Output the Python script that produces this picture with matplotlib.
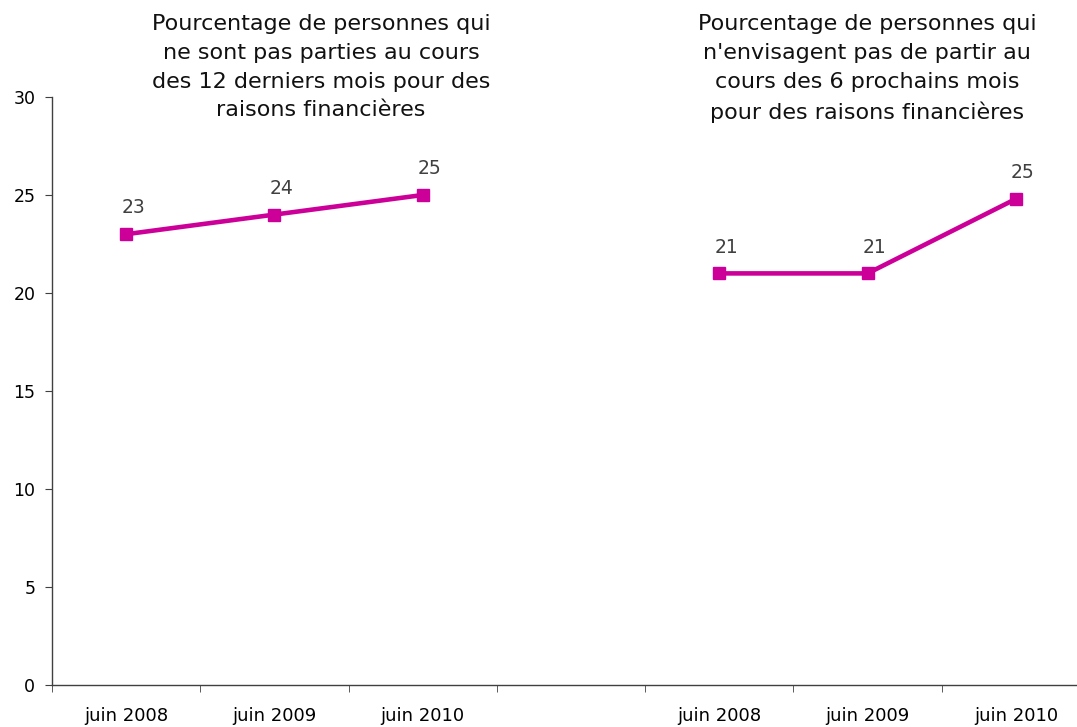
import numpy as np
import matplotlib.pyplot as plt

# categories along x (empty slot separates the two panels)
categories = ["juin 2008", "juin 2009", "juin 2010", "", "juin 2008", "juin 2009", "juin 2010"]

# % not gone away in last 12 months for financial reasons
past_values = [23, 24, 25]
past_labels = ["23", "24", "25"]

# % not planning to leave in next 6 months for financial reasons
next_values = [21, 21, 24.8]
next_labels = ["21", "21", "25"]

title_left = "Pourcentage de personnes qui\nne sont pas parties au cours\ndes 12 derniers mois pour des\nraisons financières"
title_right = "Pourcentage de personnes qui\nn'envisagent pas de partir au\ncours des 6 prochains mois\npour des raisons financières"

pink = "#CC0099"

fig = plt.figure(figsize=(10.77, 7.27), dpi=100)
ax = fig.add_axes([52 / 1077, 1 - 685 / 727, 1038 / 1077, (685 - 97) / 727])

x = np.arange(len(categories))
ax.plot(x[:3], past_values, color=pink, lw=3.3, marker="s", ms=9, clip_on=False)
ax.plot(x[4:], next_values, color=pink, lw=3.3, marker="s", ms=9, clip_on=False)

for xi, v, lab in zip(x[:3], past_values, past_labels):
    ax.annotate(lab, (xi, v), xytext=(5, 19), textcoords="offset points",
                ha="center", va="center", fontsize=13.5, color="#404040")
for xi, v, lab in zip(x[4:], next_values, next_labels):
    ax.annotate(lab, (xi, v), xytext=(5, 19), textcoords="offset points",
                ha="center", va="center", fontsize=13.5, color="#404040")

ax.set_xlim(-0.5, len(categories) - 0.5)
ax.set_ylim(0, 30)
ax.set_yticks([0, 5, 10, 15, 20, 25, 30])
ax.tick_params(axis="y", labelsize=12.5, length=5, pad=7, color="#404040")

# labels at category centres, tick marks at category boundaries
ax.set_xticks(x)
ax.set_xticklabels(categories)
ax.set_xticks(np.arange(-0.5, len(categories) + 0.5, 1), minor=True)
ax.tick_params(axis="x", which="major", length=0, labelsize=13, pad=16)
ax.tick_params(axis="x", which="minor", length=5, color="#404040")

for s in ["top", "right"]:
    ax.spines[s].set_visible(False)
for s in ["left", "bottom"]:
    ax.spines[s].set_color("#404040")
    ax.spines[s].set_linewidth(1)

fig.text(321 / 1077, 1 - 14 / 727, title_left, ha="center", va="top",
         fontsize=16, linespacing=1.55, color="#111111")
fig.text(867 / 1077, 1 - 14 / 727, title_right, ha="center", va="top",
         fontsize=16, linespacing=1.55, color="#111111")

fig.savefig("out.png", dpi=100)
